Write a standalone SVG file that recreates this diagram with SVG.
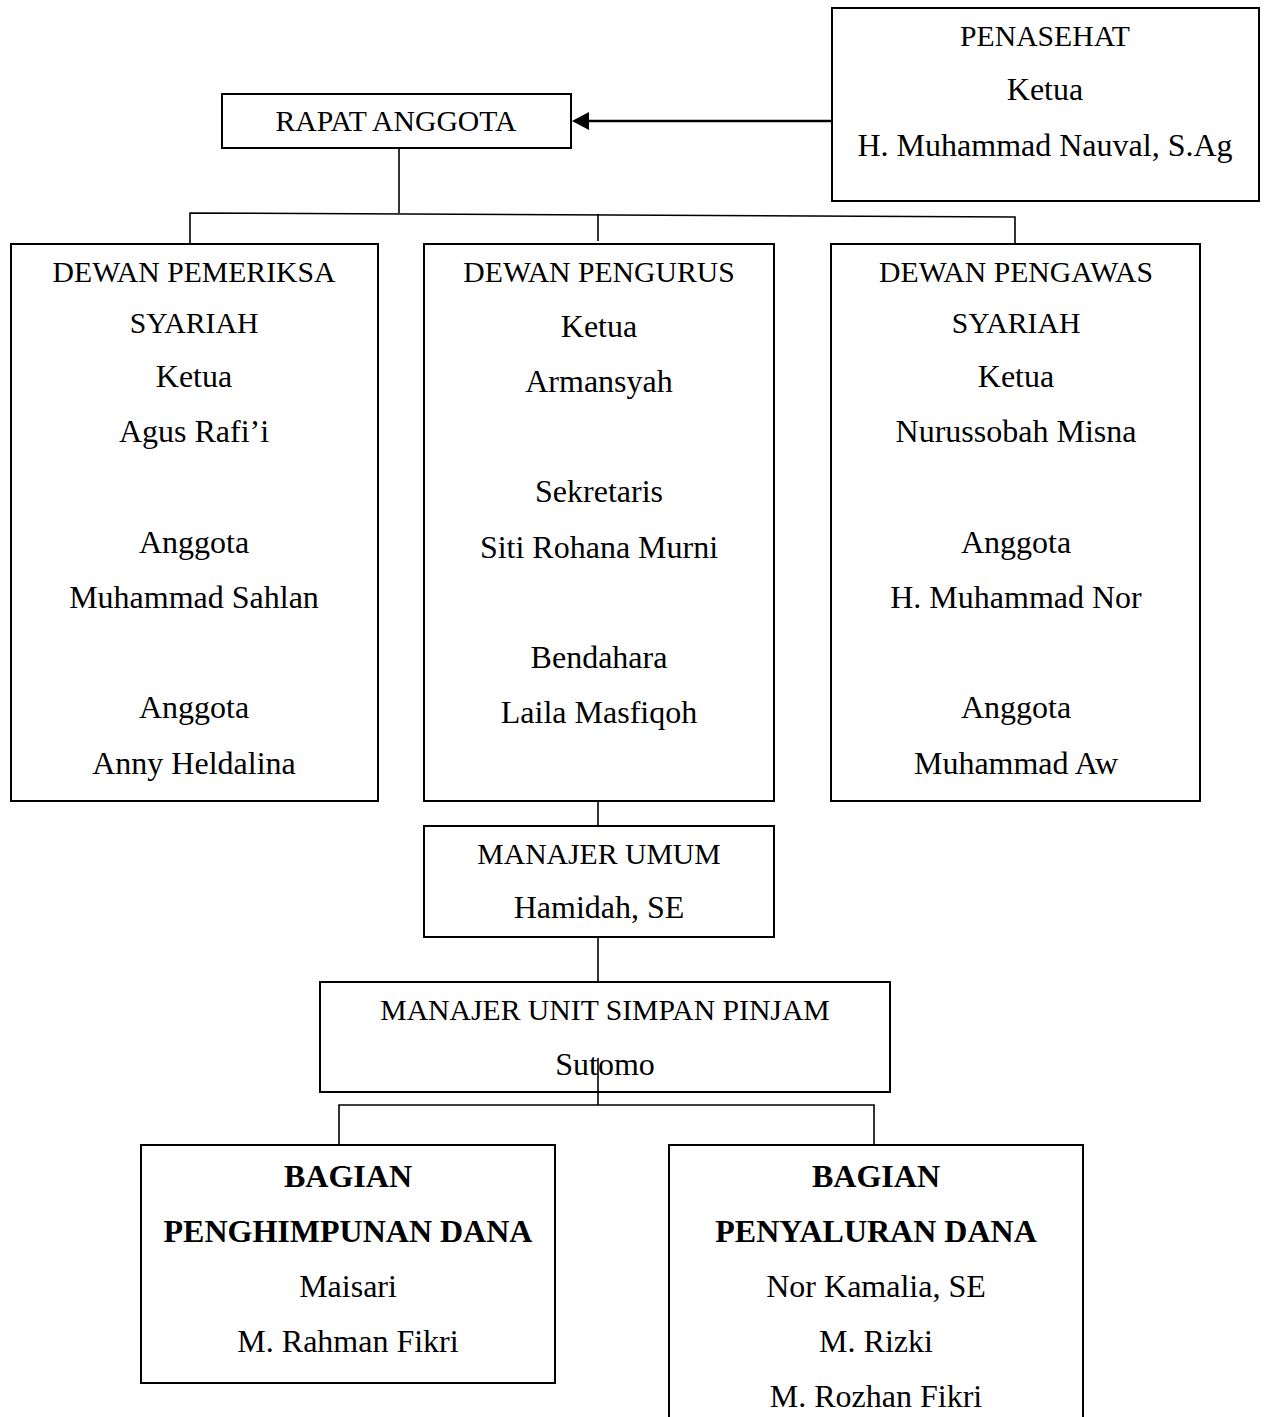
<svg xmlns="http://www.w3.org/2000/svg" width="1267" height="1417" viewBox="0 0 1267 1417">
<style>
.box{fill:#fff;stroke:#000;stroke-width:2}
.c{fill:none;stroke:#000;stroke-width:1.6}
text{font-family:"Liberation Serif","Times New Roman",serif;fill:#000;text-anchor:middle}
.u{font-size:29.7px}
.m{font-size:32px}
.b{font-size:32px;font-weight:bold}
</style>
<rect width="1267" height="1417" fill="#fff"/>
<g id="penasehat">
<rect class="box" x="832" y="8" width="427" height="193"/>
<text class="u" x="1045" y="46">PENASEHAT</text>
<text class="m" x="1045" y="100">Ketua</text>
<text class="m" x="1045" y="156">H. Muhammad Nauval, S.Ag</text>
</g>
<g id="rapat-anggota">
<rect class="box" x="222" y="94" width="349" height="54"/>
<text class="u" x="396" y="131">RAPAT ANGGOTA</text>
</g>
<g id="dewan-pemeriksa">
<rect class="box" x="11" y="244" width="367" height="557"/>
<text class="u" x="194" y="282">DEWAN PEMERIKSA</text>
<text class="u" x="194" y="333">SYARIAH</text>
<text class="m" x="194" y="387">Ketua</text>
<text class="m" x="194" y="442">Agus Rafi’i</text>
<text class="m" x="194" y="553">Anggota</text>
<text class="m" x="194" y="608">Muhammad Sahlan</text>
<text class="m" x="194" y="718">Anggota</text>
<text class="m" x="194" y="774">Anny Heldalina</text>
</g>
<g id="dewan-pengurus">
<rect class="box" x="424" y="244" width="350" height="557"/>
<text class="u" x="599" y="282">DEWAN PENGURUS</text>
<text class="m" x="599" y="337">Ketua</text>
<text class="m" x="599" y="392">Armansyah</text>
<text class="m" x="599" y="502">Sekretaris</text>
<text class="m" x="599" y="558">Siti Rohana Murni</text>
<text class="m" x="599" y="668">Bendahara</text>
<text class="m" x="599" y="723">Laila Masfiqoh</text>
</g>
<g id="dewan-pengawas">
<rect class="box" x="831" y="244" width="369" height="557"/>
<text class="u" x="1016" y="282">DEWAN PENGAWAS</text>
<text class="u" x="1016" y="333">SYARIAH</text>
<text class="m" x="1016" y="387">Ketua</text>
<text class="m" x="1016" y="442">Nurussobah Misna</text>
<text class="m" x="1016" y="553">Anggota</text>
<text class="m" x="1016" y="608">H. Muhammad Nor</text>
<text class="m" x="1016" y="718">Anggota</text>
<text class="m" x="1016" y="774">Muhammad Aw</text>
</g>
<g id="manajer-umum">
<rect class="box" x="424" y="826" width="350" height="111"/>
<text class="u" x="599" y="864">MANAJER UMUM</text>
<text class="m" x="599" y="918">Hamidah, SE</text>
</g>
<g id="manajer-unit">
<rect class="box" x="320" y="982" width="570" height="110"/>
<text class="u" x="605" y="1020">MANAJER UNIT SIMPAN PINJAM</text>
<text class="m" x="605" y="1075">Sutomo</text>
</g>
<g id="bagian-penghimpunan">
<rect class="box" x="141" y="1145" width="414" height="238"/>
<text class="b" x="348" y="1187">BAGIAN</text>
<text class="b" x="348" y="1242">PENGHIMPUNAN DANA</text>
<text class="m" x="348" y="1297">Maisari</text>
<text class="m" x="348" y="1352">M. Rahman Fikri</text>
</g>
<g id="bagian-penyaluran">
<rect class="box" x="669" y="1145" width="414" height="290"/>
<text class="b" x="876" y="1187">BAGIAN</text>
<text class="b" x="876" y="1242">PENYALURAN DANA</text>
<text class="m" x="876" y="1297">Nor Kamalia, SE</text>
<text class="m" x="876" y="1352">M. Rizki</text>
<text class="m" x="876" y="1407">M. Rozhan Fikri</text>
</g>
<g id="connectors">
<line x1="831" y1="121" x2="588" y2="121" stroke="#000" stroke-width="2.6"/>
<path d="M589,112 L572,121 L589,130 z" fill="#000"/>
<line class="c" x1="399" y1="149" x2="399" y2="213"/>
<path class="c" d="M190,243 L190,213 L1015,217 L1015,243"/>
<line class="c" x1="598" y1="214" x2="598" y2="241"/>
<line class="c" x1="598" y1="802" x2="598" y2="825"/>
<line class="c" x1="598" y1="938" x2="598" y2="981"/>
<line class="c" x1="598" y1="1058" x2="598" y2="1105"/>
<path class="c" d="M339,1144 L339,1105 L874,1105 L874,1144"/>
</g>
</svg>
